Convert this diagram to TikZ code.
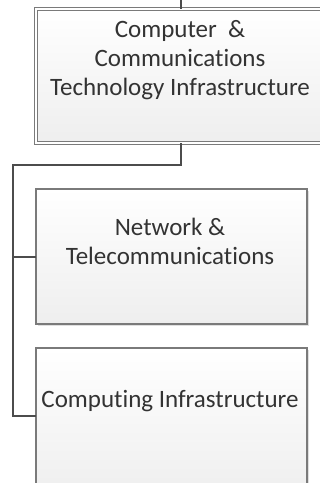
\documentclass[tikz,border=0pt]{standalone}
\usepackage{fontspec}
\setmainfont{Carlito}[RawFeature=-liga]
\usetikzlibrary{shadows}
\definecolor{edge}{HTML}{7A7A7A}
\definecolor{txt}{HTML}{333333}
\definecolor{fillbot}{HTML}{EEEEEE}
\tikzset{
  orgbox/.style={draw=edge, line width=1.2pt, top color=white, bottom color=fillbot,
    drop shadow={shadow xshift=1.5pt, shadow yshift=-1.5pt, opacity=0.25}},
  conn/.style={draw=black!70, line width=1.3pt},
  lbl/.style={text=txt, font=\fontsize{25}{29}\selectfont, align=center}
}
\begin{document}
\begin{tikzpicture}[x=1pt,y=-1pt]
\useasboundingbox (0,0) rectangle (320,483);
\clip (0,0) rectangle (320,483);
% top box
\path[orgbox, double=white, double distance=2pt, line width=1pt] (36,9) rectangle (326,143);
\coordinate (topb) at (181,143);
\coordinate (topt) at (181,9);
\coordinate (above) at (181,0);
\node[lbl] (t) at (180,60) {Computer\ \ \&\\Communications\\Technology Infrastructure};
% box 2
\path[orgbox] (36,189) rectangle (307,324);
\node[lbl] (n) at (170,241) {Network \&\\Telecommunications};
\coordinate (b2l) at (36,257);
% box 3
\path[orgbox] (36,348) rectangle (307,500);
\node[lbl] (c) at (170,401) {Computing Infrastructure};
\coordinate (b3l) at (36,416);
% connectors
\coordinate (j1) at (181,165);
\coordinate (j2) at (13,165);
\draw[conn] (above) -- (topt);
\draw[conn] (topb) -- (j1) -- (j2) |- (b3l);
\draw[conn] (j2 |- b2l) -- (b2l);
\end{tikzpicture}
\end{document}
